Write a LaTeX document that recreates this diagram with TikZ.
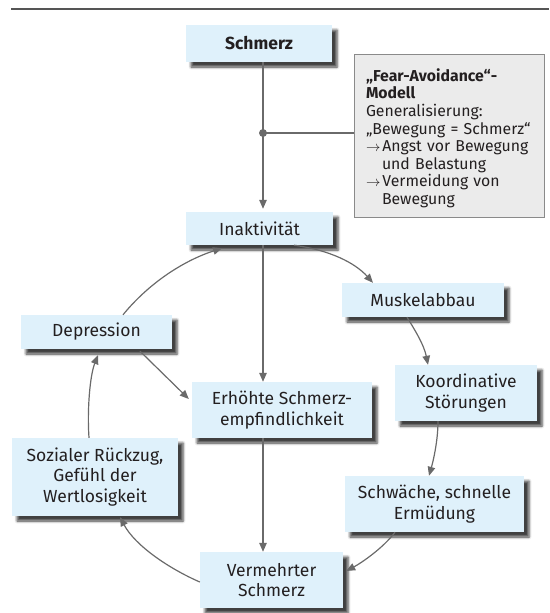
\documentclass[tikz,border=0pt]{standalone}
\usepackage{fontspec}
\setmainfont{Fira Sans}
\usetikzlibrary{arrows.meta,shadows.blur,calc}
\definecolor{boxblue}{HTML}{DFF1FB}
\definecolor{boxgray}{HTML}{EBEBEB}
\definecolor{framegray}{HTML}{8A8A8A}
\definecolor{linecol}{HTML}{6A6A6A}
\definecolor{textdark}{HTML}{231F20}
\definecolor{rulecol}{HTML}{555555}
\newcommand{\modelarrow}{$\rightarrow$\hspace{2pt}}
\begin{document}
\begin{tikzpicture}[x=1pt,y=-1pt,
  font=\fontsize{17.5}{20.7}\selectfont,
  stepbox/.style={fill=boxblue, text=textdark, align=center, inner sep=0pt,
    blur shadow={shadow xshift=5pt, shadow yshift=-5pt,
      shadow blur radius=2.5pt, shadow opacity=75}},
  modelbox/.style={fill=boxgray, draw=framegray, line width=1pt, text=textdark,
    align=left, text width=166pt, inner xsep=12pt, minimum height=163pt,
    font=\fontsize{15.8}{17.6}\selectfont},
  conn/.style={draw=linecol, line width=1.2pt, -{Triangle[length=9pt,width=7.5pt]}},
  plain/.style={draw=linecol, line width=1.2pt}]
\useasboundingbox (0,0) rectangle (549,613);

% heading rule
\coordinate (ruleL) at (11,9);
\coordinate (ruleR) at (549,9);
\draw[rulecol, line width=1.8pt] (ruleL) -- (ruleR);

% boxes of the cycle
\node[stepbox, minimum width=146pt, minimum height=37pt] (schmerz) at (259,43.5) {\textbf{Schmerz}};
\node[stepbox, minimum width=147pt, minimum height=33pt] (inakt) at (259.5,228.5) {Inaktivität};
\node[stepbox, minimum width=162pt, minimum height=34pt] (muskel) at (423,300) {Muskelabbau};
\node[stepbox, minimum width=151pt, minimum height=34pt] (dep) at (96.5,332) {Depression};
\node[stepbox, minimum width=180pt, minimum height=56pt] (erh) at (282,410) {Erhöhte Schmerz-\\empfindlichkeit};
\node[stepbox, minimum width=142pt, minimum height=56pt] (koord) at (466,393) {Koordinative\\Störungen};
\node[stepbox, minimum width=179pt, minimum height=56pt] (schw) at (434.5,504) {Schwäche, schnelle\\Ermüdung};
\node[stepbox, minimum width=166pt, minimum height=78pt] (soz) at (95,477) {Sozialer Rückzug,\\Gefühl der\\Wertlosigkeit};
\node[stepbox, minimum width=143pt, minimum height=56pt] (verm) at (271.5,580) {Vermehrter\\Schmerz};

% explanation box
\node[modelbox, minimum width=190pt] (model) at (449,135.5) {%
  \rule{0pt}{18pt}\textbf{„Fear-Avoidance“-}\\
  \textbf{Modell}\\
  Generalisierung:\\
  \mbox{„Bewegung = Schmerz“}\\
  \mbox{\modelarrow Angst vor Bewegung}\\
  \hspace*{16pt}und Belastung\\
  \modelarrow Vermeidung von\\
  \hspace*{16pt}Bewegung};

% branch point towards the model
\coordinate (dot) at (263,133);
\draw[conn, shorten >=3pt] (dot |- schmerz.south) -- (dot |- inakt.north);
\draw[plain] (dot) -- (dot -| model.west);
\fill[linecol] (dot) circle (4pt);

% straight connectors
\draw[conn] (dot |- inakt.south) -- (dot |- erh.north);
\draw[conn] (dot |- erh.south) -- (dot |- verm.north);
\draw[conn] ([xshift=43.5pt,yshift=-2pt]dep.south) -- ([xshift=-3pt,yshift=11pt]erh.west);

% curved connectors of the cycle
\draw[conn] ([xshift=34.5pt]inakt.south) .. controls +(36,5) and +(-18,-20) .. ([xshift=-50pt]muskel.north);
\draw[conn] ([xshift=-16pt]muskel.south) .. controls +(8,13) and +(-4,-20) .. ([xshift=-38pt]koord.north);
\draw[conn] ([xshift=-28pt]koord.south) .. controls +(0,20) and +(4,-14) .. ([xshift=-5.5pt]schw.north);
\draw[conn] ([xshift=-39.5pt]schw.south) .. controls +(-12,16) and +(15,-8) .. ([xshift=3pt,yshift=9pt]verm.east);
\draw[conn] ([yshift=-2pt]verm.west) .. controls +(-32,-14) and +(15,28) .. ([xshift=25pt,yshift=-1pt]soz.south);
\draw[conn] ([xshift=-6pt]soz.north) .. controls +(-2,-28) and +(-8,20) .. ([xshift=1.5pt,yshift=-6pt]dep.south);
\draw[conn] ([xshift=26.5pt]dep.north) .. controls +(27,-33) and +(-37,12) .. ([xshift=-37.5pt,yshift=-3pt]inakt.south);
\end{tikzpicture}
\end{document}
